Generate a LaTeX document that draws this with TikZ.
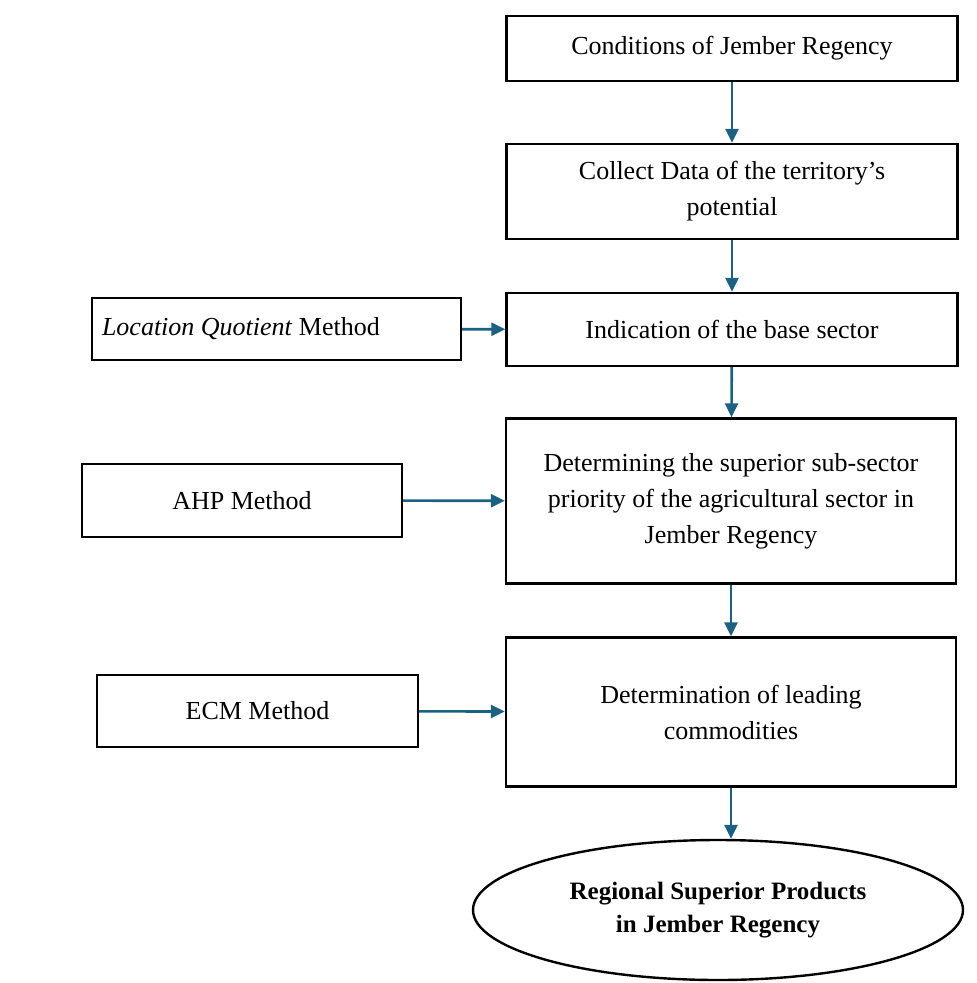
\documentclass[tikz,border=0pt]{standalone}
\usepackage{fontspec}
\setmainfont{Liberation Serif}
\usepackage{xcolor}
\usetikzlibrary{arrows.meta,shapes.geometric}
\definecolor{fleche}{RGB}{28, 96, 130}

\begin{document}
\begin{tikzpicture}[x=1pt, y=-1pt, >={Triangle[length=14pt,width=13pt]},
    box/.style={draw, line width=2.4pt, align=center, inner sep=0pt, font=\fontsize{26}{36}\selectfont},
    flow/.style={->, fleche, line width=2.6pt}]
                \useasboundingbox (0,0) rectangle (977,983);

                % main column
                \node[box, minimum width=451, minimum height=65] (cond) at (732,48.5) {Conditions of Jember Regency};
                \node[box, minimum width=451, minimum height=95] (collect) at (732,191.5) {Collect Data of the territory's\\potential};
                \node[box, minimum width=451, minimum height=73] (indic) at (732,329.5) {Indication of the base sector};
                \node[box, minimum width=450, minimum height=165] (determ) at (731,501) {Determining the superior sub-sector\\priority of the agricultural sector in\\Jember Regency};
                \node[box, minimum width=450, minimum height=149] (lead) at (731,712) {Determination of leading\\commodities};

                % methods
                \node[box, align=flush left, text width=349, inner xsep=10, minimum height=62] (lq) at (276.5,329) {\textit{Location Quotient} Method};
                \node[box, minimum width=320, minimum height=73] (ahp) at (242,500.5) {AHP Method};
                \node[box, minimum width=321, minimum height=72] (ecm) at (257.5,711) {ECM Method};

                % result
                \node[ellipse, draw, line width=2.4pt, minimum width=490, minimum height=140, inner sep=0pt, align=center,
                      font=\fontsize{25}{33}\selectfont\bfseries] (goal) at (718,910) {Regional Superior Products\\in Jember Regency};

                % arrows
                \draw[flow] (cond) -- (collect);
                \draw[flow] (collect) -- (indic);
                \draw[flow] (indic) -- (determ);
                \draw[flow] (determ) -- (lead);
                \draw[flow] (lead.south) -- (lead.south |- goal.north);
                \draw[flow] (lq) -- (indic);
                \draw[flow] (ahp) -- (determ);
                \draw[flow] (ecm) -- (lead);
\end{tikzpicture}
\end{document}
